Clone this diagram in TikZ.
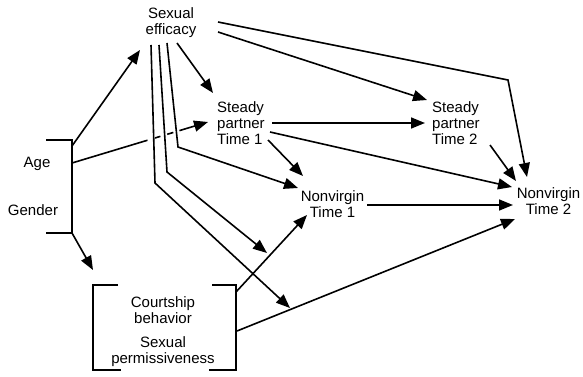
\documentclass[tikz,border=0pt]{standalone}
\usepackage{fontspec}
\setmainfont{Liberation Sans}
\usetikzlibrary{arrows.meta,calc}
\begin{document}
\begin{tikzpicture}[x=1pt,y=-1pt,
  lbl/.style={inner sep=0pt,font=\fontsize{15}{16}\selectfont,align=center},
  lbll/.style={inner sep=0pt,font=\fontsize{15}{16}\selectfont,align=left},
  con/.style={line width=1.6pt},
  arr/.style={con,-{Triangle[length=14pt,width=11pt]}},
  brk/.style={line width=1.3pt}]
\useasboundingbox (0,0) rectangle (583,377);
% nodes
\node[lbl] (se) at (171,22.5) {Sexual\\efficacy};
\node[lbll,anchor=west] (sp1) at (217,123.5) {Steady\\partner\\Time 1};
\node[lbll,anchor=west] (sp2) at (432,123.5) {Steady\\partner\\Time 2};
\node[lbl] (nv1) at (332.5,204) {Nonvirgin\\Time 1};
\node[lbl] (nv2) at (548.5,201.5) {Nonvirgin\\Time 2};
\node[lbl] (age) at (37,163.5) {Age};
\node[lbl] (gen) at (33,210) {Gender};
\node[lbl] (cb) at (163,310) {Courtship\\behavior};
\node[lbl] (sxp) at (163,352) {Sexual\\permissiveness};
% bracket Age/Gender
\coordinate (ab1) at (46,140);
\coordinate (ab2) at (72,140);
\coordinate (ab3) at (72,233);
\coordinate (ab4) at (46,233);
\coordinate (abup) at (72,146);
\coordinate (abmid) at (72,163);
\draw[brk] (ab1) -- (ab2) -- (ab3) -- (ab4);
% bracket Courtship/Sexual permissiveness
\coordinate (cl1) at (118,285);
\coordinate (cl2) at (93,285);
\coordinate (cl3) at (93,370);
\coordinate (cl4) at (121,370);
\coordinate (cr1) at (212,285);
\coordinate (cr2) at (236,285);
\coordinate (cr3) at (236,370);
\coordinate (cr4) at (209,370);
\coordinate (crup) at (236,292);
\coordinate (crmid) at (237,331);
\draw[brk] (cl1) -- (cl2) -- (cl3) -- (cl4);
\draw[brk] (cr1) -- (cr2) -- (cr3) -- (cr4);
% tips and bends
\coordinate (seA) at (140,50);
\coordinate (cbA) at (93,270);
\coordinate (sp1A) at (208,122);
\coordinate (sp1B) at (213,93);
\coordinate (sp2A) at (427,100);
\coordinate (sp2B) at (425,123);
\coordinate (nv1A) at (298,188);
\coordinate (nv1B) at (303,176);
\coordinate (nv1C) at (307,215);
\coordinate (nv2A) at (527,177);
\coordinate (nv2B) at (516,181);
\coordinate (nv2C) at (512,187);
\coordinate (nv2D) at (513,205);
\coordinate (nv2E) at (515,219);
\coordinate (bendNV) at (508,80);
\coordinate (medA) at (267,253);
\coordinate (medB) at (290,308);
% Age/Gender arrows
\draw[arr] (abup) -- (seA);
\draw[arr] (ab3) -- (cbA);
\draw[con] (abmid) -- ($(abmid)!0.555!(sp1A)$);
\draw[con] ($(abmid)!0.61!(sp1A)$) -- ($(abmid)!0.65!(sp1A)$);
\draw[con] ($(abmid)!0.70!(sp1A)$) -- ($(abmid)!0.745!(sp1A)$);
\draw[arr] ($(abmid)!0.79!(sp1A)$) -- (sp1A);
% Sexual efficacy arrows
\draw[arr] (177,43) coordinate (se1) -- (sp1B);
\draw[arr] (218,32) coordinate (se2) -- (sp2A);
\draw[arr] (218,22) coordinate (se3) -- (bendNV) -- (nv2A);
\draw[arr] (167,43) coordinate (se4) -- (178,147) coordinate (b4) -- (nv1A);
\draw[arr] (159,45) coordinate (se5) -- (167,172) coordinate (b5) -- (medA);
\draw[arr] (151,45) coordinate (se6) -- (155,183) coordinate (b6) -- (medB);
% Steady partner Time 1
\draw[arr] (272,123) coordinate (s11) -- (sp2B);
\draw[arr] (270,132) coordinate (s12) -- (nv2C);
\draw[arr] (268,140) coordinate (s13) -- (nv1B);
% Steady partner Time 2
\draw[arr] (490,145) coordinate (s21) -- (nv2B);
% Nonvirgin Time 1
\draw[arr] (367,205) coordinate (n11) -- (nv2D);
% Courtship
\draw[arr] (crup) -- (nv1C);
\draw[arr] (crmid) -- (nv2E);
\end{tikzpicture}
\end{document}
